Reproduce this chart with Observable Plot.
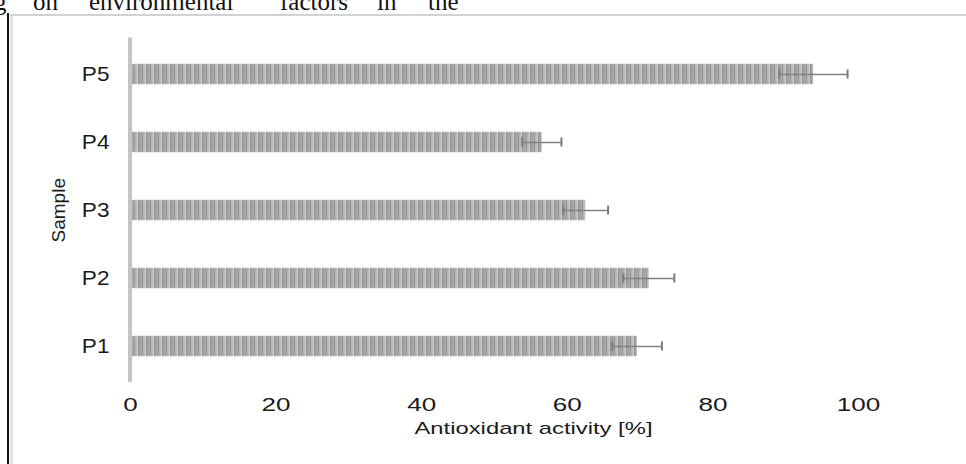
<!DOCTYPE html>
<html>
<head>
<meta charset="utf-8">
<script src="https://cdn.jsdelivr.net/npm/d3@7"></script>
<script src="https://cdn.jsdelivr.net/npm/@observablehq/plot@0.6"></script>
<style>
  html, body { margin: 0; padding: 0; background: white; overflow: hidden; }
  #wrap { position: relative; width: 966px; height: 464px; overflow: hidden; background: white; }
  #chart { position: absolute; left: 0; top: 0; }
  .frame { position: absolute; z-index: 2; }
  .word { position: absolute; z-index: 3; font-family: "Liberation Serif", "Times New Roman", serif; font-size: 25px; line-height: 25px; color: #111; white-space: nowrap; }
</style>
</head>
<body>
<div id="wrap">
  <div id="chart"></div>
  <div class="frame" style="left:7px; top:13px; width:2px; height:451px; background:#111;"></div>
  <div class="frame" style="left:10px; top:14px; width:2.5px; height:450px; background:#e2e2e2;"></div>
  <div class="frame" style="left:10px; top:14px; width:956px; height:2px; background:#d2d2d2;"></div>
</div>
<script>
// ---- chart data ----
const samples = ["P5", "P4", "P3", "P2", "P1"];
const activity = [93.8, 56.5, 62.5, 71.2, 69.6];
const sd = [4.7, 2.7, 3.1, 3.5, 3.4];
const xTicks = [0, 20, 40, 60, 80, 100];
const xLabel = "Antioxidant activity [%]";
const yLabel = "Sample";
// running text of the page above the figure (clipped)
const pageWords = ["g", "on", "environmental", "factors", "in", "the"];
const pageWordX = [-6, 33, 89, 280, 377, 428];

const rows = samples.map((s, i) => ({sample: s, value: activity[i], lo: activity[i] - sd[i], hi: activity[i] + sd[i]}));

const plot = Plot.plot({
  width: 966,
  height: 464,
  marginLeft: 130,
  marginRight: 108,
  marginTop: 37.5,
  marginBottom: 82,
  style: {fontFamily: "'Liberation Sans', Arial, sans-serif", fontSize: "18px", color: "#1a1a1a", background: "white"},
  x: {domain: [0, 100]},
  y: {domain: samples, paddingInner: 0.7, paddingOuter: 0.35},
  marks: [
    Plot.barX(rows, {x: "value", y: "sample", fill: "url(#stripes)", stroke: "#c4c4c4", strokeWidth: 0.6}),
    Plot.ruleX([0], {stroke: "#c4c4c4", strokeWidth: 4, dx: -0.5}),
    Plot.ruleY(rows, {x1: "lo", x2: "hi", y: "sample", stroke: "#808080", strokeWidth: 1.6}),
    Plot.tickX(rows, {x: "lo", y: "sample", insetTop: 5.5, insetBottom: 5.5, stroke: "#7a7a7a", strokeWidth: 2}),
    Plot.tickX(rows, {x: "hi", y: "sample", insetTop: 5.5, insetBottom: 5.5, stroke: "#7a7a7a", strokeWidth: 2}),
    Plot.axisX({ticks: xTicks, tickSize: 0, tickPadding: 16, label: null, fontSize: 18}),
    Plot.axisY({tickSize: 0, tickPadding: 21, label: null, fontSize: 20}),
    Plot.text([xLabel], {text: d => d, frameAnchor: "bottom", dy: 51, dx: 39, fontSize: 17, fill: "#1a1a1a"}),
    Plot.text([yLabel], {text: d => d, frameAnchor: "left", textAnchor: "middle", dx: -72, rotate: -90, fontSize: 19, fill: "#1a1a1a"})
  ]
});

// striped bar texture
const ns = "http://www.w3.org/2000/svg";
const defs = document.createElementNS(ns, "defs");
const pat = document.createElementNS(ns, "pattern");
pat.setAttribute("id", "stripes");
pat.setAttribute("patternUnits", "userSpaceOnUse");
pat.setAttribute("width", "8");
pat.setAttribute("height", "40");
pat.setAttribute("x", "130");
const stripeSpec = [[0, 8, "#c0c0c0"], [0, 1.5, "#8c8c8c"], [2, 1, "#a2a2a2"], [3.5, 1.5, "#959595"], [5.5, 1, "#b0b0b0"], [7, 0.7, "#d8d8d8"]];
for (const [x, w, c] of stripeSpec) {
  const r = document.createElementNS(ns, "rect");
  r.setAttribute("x", x); r.setAttribute("y", 0);
  r.setAttribute("width", w); r.setAttribute("height", 40);
  r.setAttribute("fill", c);
  pat.appendChild(r);
}
defs.appendChild(pat);
plot.insertBefore(defs, plot.firstChild);

document.getElementById("chart").appendChild(plot);

// horizontally stretched lettering as in the reference
function stretch(el, s, anchor) {
  const b = el.getBBox();
  const px = anchor === "end" ? b.x + b.width : anchor === "start" ? b.x : b.x + b.width / 2;
  const t = el.getAttribute("transform") || "";
  el.setAttribute("transform", `${t} translate(${px},0) scale(${s},1) translate(${-px},0)`);
}
plot.querySelectorAll('g[aria-label="x-axis tick label"] text').forEach(t => stretch(t, 1.45, "middle"));
plot.querySelectorAll('g[aria-label="y-axis tick label"] text').forEach(t => stretch(t, 1.13, "end"));
plot.querySelectorAll('g[aria-label="text"] text').forEach(t => { if (t.textContent === xLabel) stretch(t, 1.4, "middle"); });

// page text above the figure
const wrap = document.getElementById("wrap");
pageWords.forEach((w, i) => {
  const d = document.createElement("div");
  d.className = "word";
  d.textContent = w;
  d.style.left = pageWordX[i] + "px";
  d.style.top = "-11px";
  wrap.appendChild(d);
});
</script>
</body>
</html>
